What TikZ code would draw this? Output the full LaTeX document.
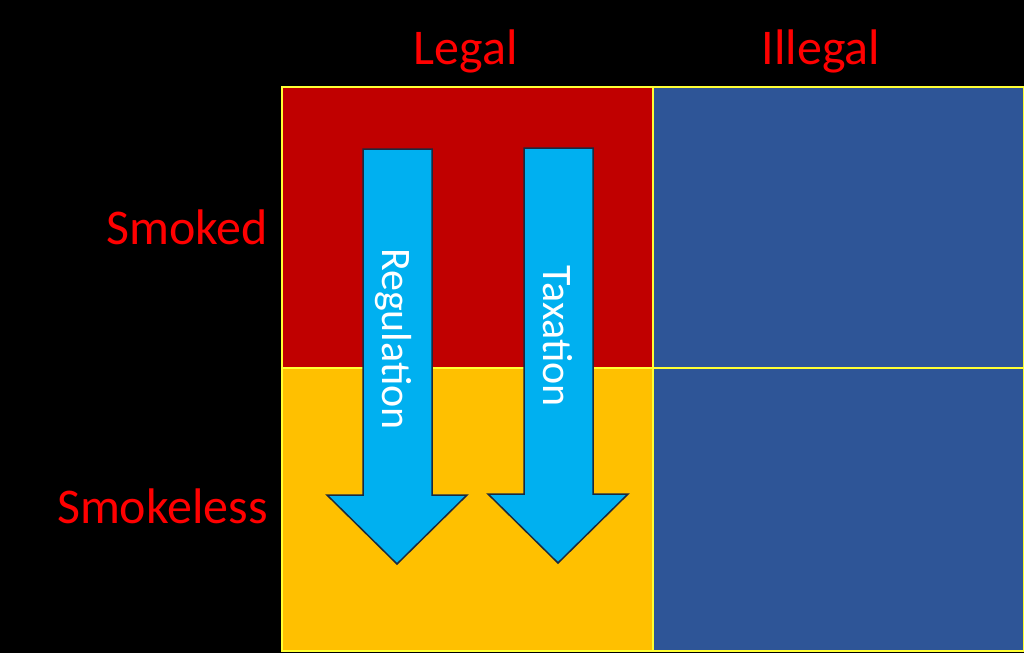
\documentclass[tikz,border=0pt]{standalone}
\usepackage{fontspec}
\setmainfont{Carlito}
\definecolor{cred}{HTML}{C00000}
\definecolor{cyel}{HTML}{FFC000}
\definecolor{cblue}{HTML}{2E5597}
\definecolor{carrow}{HTML}{00B0F0}
\definecolor{cline}{HTML}{FFFF33}
\definecolor{cout}{HTML}{1A2A40}
\definecolor{ctext}{HTML}{FF0000}
\tikzset{
  cell/.style={draw=cline, line width=1.6pt},
  bigarrow/.style={fill=carrow, draw=cout, line width=1.5pt, line join=miter},
  head/.style={text=ctext, font=\fontsize{50}{50}\selectfont, inner sep=0pt},
  arrowlabel/.style={text=white, font=\fontsize{42}{42}\selectfont, inner sep=0pt, rotate=-90, anchor=base},
}
\begin{document}
\begin{tikzpicture}[x=1pt,y=-1pt]
\fill[black] (0,0) rectangle (1024,653);
\useasboundingbox (0,0) rectangle (1024,653);
% cells
\path[cell, fill=cred] (282,87) rectangle (653,368);
\path[cell, fill=cyel] (282,368) rectangle (653,651);
\path[cell, fill=cblue] (653,87) rectangle (1023.5,368);
\path[cell, fill=cblue] (653,368) rectangle (1023.5,651);
% arrows
\draw[bigarrow] (363,149) -- (432,149) -- (432,495) -- (467,495) -- (397,564) -- (327,495) -- (363,495) -- cycle;
\draw[bigarrow] (524,148) -- (593,148) -- (593,494) -- (628,494) -- (558,563) -- (488,494) -- (524,494) -- cycle;
\node[arrowlabel] (reg) at (382,339) {Regulation};
\node[arrowlabel] (tax) at (543,336) {Taxation};
% headings
\node[head, anchor=base] (legal) at (465.5,64) {Legal};
\node[head, anchor=base] (illegal) at (821,64) {Illegal};
\node[head, anchor=base east] (smoked) at (268,244) {Smoked};
\node[head, anchor=base east] (smokeless) at (268,523) {Smokeless};
\end{tikzpicture}
\end{document}
